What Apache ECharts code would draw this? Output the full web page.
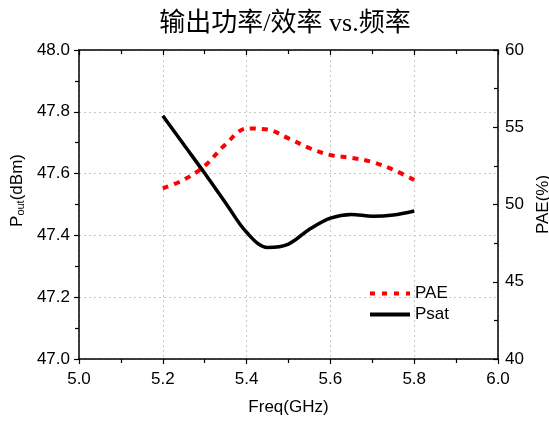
<!DOCTYPE html>
<html><head><meta charset="utf-8">
<script src="https://cdn.jsdelivr.net/npm/echarts@6/dist/echarts.min.js"></script>
<style>html,body{margin:0;padding:0;background:#fff}#c{width:549px;height:426px}</style>
</head><body><div id="c"></div>
<script>
const freq = [5.2, 5.25, 5.3, 5.35, 5.4, 5.45, 5.5, 5.55, 5.6, 5.65, 5.7, 5.75, 5.8];
const psat = [47.787, 47.694, 47.601, 47.505, 47.410, 47.361, 47.372, 47.420, 47.456, 47.468, 47.462, 47.466, 47.479];
const pae = [51.05, 51.6, 52.5, 53.9, 54.92, 54.85, 54.28, 53.65, 53.2, 53.02, 52.75, 52.25, 51.59];
const xTicks = {min: 5.0, max: 6.0, step: 0.2};
const leftTicks = {min: 47.0, max: 48.0, step: 0.2};
const rightTicks = {min: 40, max: 60, step: 5};

const font = 'Liberation Sans, Arial, sans-serif';
const fs = 17;
const chart = echarts.init(document.getElementById('c'));
const axisLine = {show: true, lineStyle: {color: '#000', width: 1.5}};
const tickStyle = {color: '#000', width: 1.2};
chart.setOption({
  animation: false,
  title: {
    text: '输出功率/效率 vs.频率', left: 280, top: 6, textAlign: 'center',
    textStyle: {fontFamily: 'Liberation Serif, Noto Sans CJK SC, serif', fontSize: 26, fontWeight: 'normal', color: '#000'}
  },
  grid: {left: 79, right: 51, top: 50, bottom: 67, outerBoundsMode: 'none', containLabel: false},
  legend: {
    orient: 'vertical', left: 363, top: 280, itemGap: 4, itemWidth: 40, itemHeight: 16,
    textStyle: {fontFamily: font, fontSize: fs, color: '#000'},
    itemStyle: {opacity: 0},
    data: [
      {name: 'PAE', lineStyle: {width: 4, type: [5, 7]}},
      {name: 'Psat', lineStyle: {width: 4}}
    ]
  },
  xAxis: [{
    type: 'value', min: xTicks.min, max: xTicks.max, interval: xTicks.step,
    name: 'Freq(GHz)', nameLocation: 'middle', nameGap: 40,
    nameTextStyle: {fontFamily: font, fontSize: fs, color: '#000'},
    axisLine: axisLine,
    axisTick: {show: true, inside: false, length: 5, lineStyle: tickStyle},
    minorTick: {show: true, splitNumber: 2, length: 4, lineStyle: tickStyle},
    axisLabel: {fontFamily: font, fontSize: fs, color: '#000', margin: 12, formatter: v => v.toFixed(1)},
    splitLine: {show: true, lineStyle: {color: '#c8c8c8', type: [2, 3], width: 1}}
  }, {
    type: 'value', position: 'top', min: xTicks.min, max: xTicks.max, interval: xTicks.step,
    axisLine: axisLine,
    axisTick: {show: true, inside: true, length: 5, lineStyle: tickStyle},
    minorTick: {show: true, splitNumber: 2, length: 4, lineStyle: tickStyle},
    axisLabel: {show: false}, splitLine: {show: false}
  }],
  yAxis: [{
    type: 'value', min: leftTicks.min, max: leftTicks.max, interval: leftTicks.step,
    name: '{a|P}{s|out}{a|(dBm)}', nameLocation: 'middle', nameGap: 46, nameRotate: 90,
    nameTextStyle: {padding: [0, 0, 0, 28], rich: {
      a: {fontFamily: font, fontSize: fs, color: '#000'},
      s: {fontFamily: font, fontSize: 11, color: '#000', verticalAlign: 'bottom', padding: [7, 0, 0, 0]}
    }},
    axisLine: axisLine,
    axisTick: {show: true, inside: false, length: 5, lineStyle: tickStyle},
    minorTick: {show: true, splitNumber: 2, length: 4, lineStyle: tickStyle},
    axisLabel: {fontFamily: font, fontSize: fs, color: '#000', margin: 9, formatter: v => v.toFixed(1)},
    splitLine: {show: true, lineStyle: {color: '#c8c8c8', type: [2, 3], width: 1}}
  }, {
    type: 'value', position: 'right', min: rightTicks.min, max: rightTicks.max, interval: rightTicks.step,
    name: 'PAE(%)', nameLocation: 'middle', nameGap: 18, nameRotate: 90,
    nameTextStyle: {fontFamily: font, fontSize: fs, color: '#000'},
    axisLine: axisLine,
    axisTick: {show: true, inside: true, length: 5, lineStyle: tickStyle},
    minorTick: {show: true, splitNumber: 2, length: 4, lineStyle: tickStyle},
    axisLabel: {fontFamily: font, fontSize: fs, color: '#000', margin: 7},
    splitLine: {show: false}
  }],
  series: [{
    name: 'PAE', type: 'line', xAxisIndex: 0, yAxisIndex: 1, smooth: 0.35, symbol: 'none',
    data: freq.map((f, i) => [f, pae[i]]),
    lineStyle: {color: '#ff0000', width: 4, type: [6, 6]}, itemStyle: {color: '#ff0000'}
  }, {
    name: 'Psat', type: 'line', xAxisIndex: 0, yAxisIndex: 0, smooth: 0.35, symbol: 'none',
    data: freq.map((f, i) => [f, psat[i]]),
    lineStyle: {color: '#000', width: 3.5}, itemStyle: {color: '#000'}
  }]
});
</script></body></html>
